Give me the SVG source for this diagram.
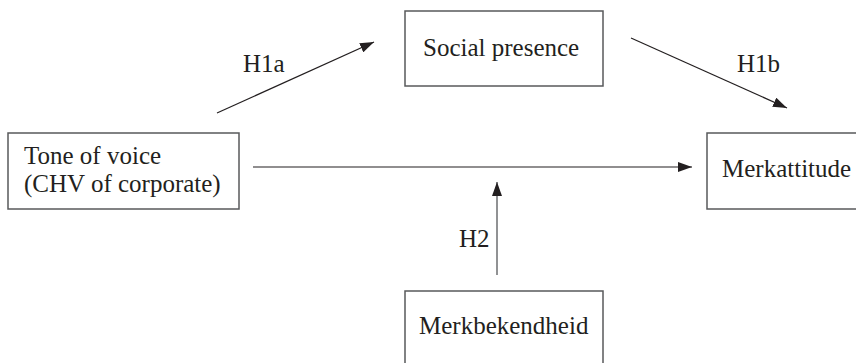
<svg xmlns="http://www.w3.org/2000/svg" width="856" height="363" viewBox="0 0 856 363">
<style>
.box{fill:#fff;stroke:#58595b;stroke-width:1.5}
.t{font-family:'Liberation Serif','DejaVu Serif','Times New Roman',serif;font-size:25px;fill:#231f20}
.c{stroke:#231f20;stroke-width:1.2;fill:none}
.g{stroke:#6d6e71;stroke-width:1.5;fill:none}
</style>
<defs>
<marker id="ah" viewBox="0 0 14 10" refX="14" refY="5" markerWidth="14" markerHeight="10" markerUnits="userSpaceOnUse" orient="auto">
<path d="M0,0 L14,5 L0,10 z" fill="#231f20"/>
</marker>
</defs>
<rect width="856" height="363" fill="#fff"/>
<g id="tone">
<rect class="box" x="8" y="133" width="231" height="76"/>
<text class="t" x="24" y="164" font-family="Liberation Serif, serif">Tone of voice</text>
<text class="t" x="24" y="192" font-family="Liberation Serif, serif">(CHV of corporate)</text>
</g>
<g id="social">
<rect class="box" x="405" y="11" width="198" height="75"/>
<text class="t" x="423" y="56" font-family="Liberation Serif, serif">Social presence</text>
</g>
<g id="merkattitude">
<rect class="box" x="707" y="133" width="160" height="76"/>
<text class="t" x="722" y="177" font-family="Liberation Serif, serif">Merkattitude</text>
</g>
<g id="merkbekendheid">
<rect class="box" x="405" y="291" width="198" height="80"/>
<text class="t" x="419" y="334" font-family="Liberation Serif, serif">Merkbekendheid</text>
</g>
<g id="connectors">
<line class="c" x1="217" y1="113" x2="374" y2="42" marker-end="url(#ah)"/>
<line class="c" x1="631" y1="38" x2="787" y2="108" marker-end="url(#ah)"/>
<line class="c" x1="253" y1="167" x2="692" y2="167" marker-end="url(#ah)"/>
<line class="g" x1="497" y1="275" x2="497" y2="182" marker-end="url(#ah)"/>
<text class="t" x="243" y="72" font-family="Liberation Serif, serif">H1a</text>
<text class="t" x="737" y="72" font-family="Liberation Serif, serif">H1b</text>
<text class="t" x="459" y="247" font-family="Liberation Serif, serif">H2</text>
</g>
</svg>
